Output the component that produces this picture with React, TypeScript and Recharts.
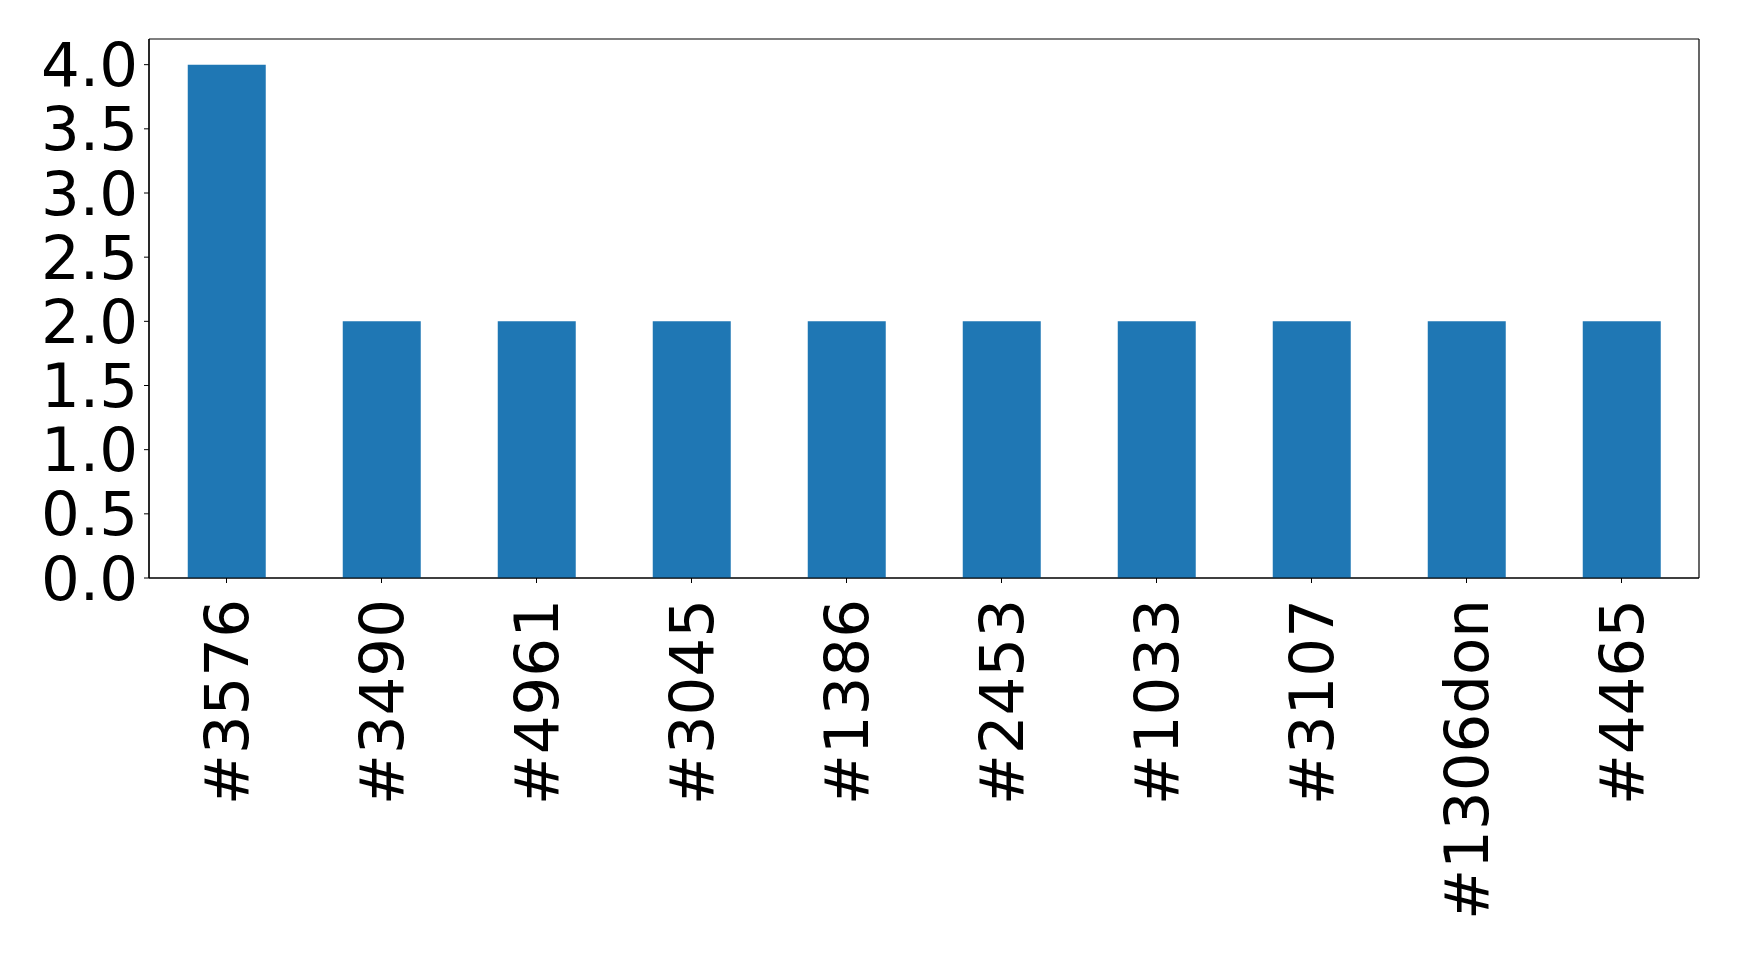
import { BarChart, Bar, XAxis, YAxis, CartesianGrid } from "recharts";

const users = ["#3576", "#3490", "#4961", "#3045", "#1386", "#2453", "#1033", "#3107", "#1306don", "#4465"];
const counts = [4, 2, 2, 2, 2, 2, 2, 2, 2, 2];
const yTicks = [0, 0.5, 1, 1.5, 2, 2.5, 3, 3.5, 4];

const data = users.map((name, i) => ({ name, count: counts[i] }));

const FONT = "DejaVu Sans";

// rotated category label, end of text sits just below the tick
function RotatedTick(props: any) {
  const { x, y, payload } = props;
  return (
    <text
      x={x}
      y={y}
      transform={`rotate(-90, ${x}, ${y})`}
      textAnchor="end"
      dy="0.36em"
      fontSize={61}
      fontFamily={FONT}
      fill="#000"
    >
      {payload.value}
    </text>
  );
}

export default function App() {
  return (
    <div style={{ position: "absolute", left: 0, top: 0, background: "#fff" }}>
      <BarChart
        width={1739}
        height={957}
        data={data}
        margin={{ top: 39, right: 40, left: 0, bottom: 0 }}
        barCategoryGap="25%"
      >
        {/* frame around the plot area (matplotlib spines) */}
        <CartesianGrid
          stroke="#000"
          strokeWidth={1.2}
          horizontalCoordinatesGenerator={({ offset }: any) => [offset.top, offset.top + offset.height]}
          verticalCoordinatesGenerator={({ offset }: any) => [offset.left, offset.left + offset.width]}
        />
        <XAxis
          dataKey="name"
          height={379}
          interval={0}
          tickSize={5}
          tickMargin={16}
          axisLine={{ stroke: "#000", strokeWidth: 1.2 }}
          tickLine={{ stroke: "#000" }}
          tick={<RotatedTick />}
        />
        <YAxis
          domain={[0, 4.2]}
          ticks={yTicks}
          interval={0}
          width={149}
          tickSize={5}
          tickMargin={6}
          tickFormatter={(v: number) => v.toFixed(1)}
          axisLine={{ stroke: "#000", strokeWidth: 1.2 }}
          tickLine={{ stroke: "#000" }}
          tick={{ fontSize: 61, fontFamily: FONT, fill: "#000" }}
        />
        <Bar dataKey="count" fill="#1f77b4" isAnimationActive={false} />
      </BarChart>
    </div>
  );
}
